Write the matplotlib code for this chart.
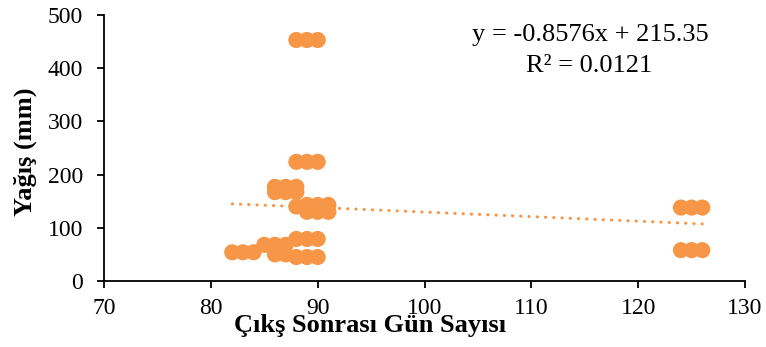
import numpy as np
import matplotlib.pyplot as plt

plt.rcParams['font.family'] = ['Liberation Serif', 'DejaVu Serif']

# gun sayisi / yagis (mm)
gun = [88, 89, 90,
       88, 89, 90,
       86, 87, 88,
       86, 87, 88,
       88, 89, 90, 91,
       89, 90, 91,
       88, 89, 90,
       85, 86, 87,
       82, 83, 84,
       86, 87,
       88, 89, 90,
       124, 125, 126,
       124, 125, 126]
yagis = [453, 453, 453,
         224, 224, 224,
         177, 177, 177,
         167, 167, 167,
         140, 143, 143, 143,
         130, 130, 130,
         79, 79, 79,
         68, 68, 68,
         54, 54, 54,
         50, 50,
         45, 45, 45,
         138, 138, 138,
         58, 58, 58]

# dogrusal egilim
egim = -0.8576
kesisim = 215.35
r2 = 0.0121

TURUNCU = '#F79646'

fig = plt.figure(figsize=(7.66, 3.47), dpi=100)
ax = fig.add_axes([0.1358, 0.1902, 0.8368, 0.7666])

ax.scatter(gun, yagis, s=135, color=TURUNCU, edgecolors='none', zorder=3)

xs = np.array([min(gun), max(gun)])
ax.plot(xs, egim * xs + kesisim, color=TURUNCU, lw=2.2,
        linestyle=(0, (0.1, 2.6)), dash_capstyle='round', zorder=2)

ax.set_xlim(70, 130)
ax.set_ylim(0, 500)
ax.set_xticks(range(70, 131, 10))
ax.set_yticks(range(0, 501, 100))

for side in ['top', 'right']:
    ax.spines[side].set_visible(False)
for side in ['left', 'bottom']:
    ax.spines[side].set_linewidth(1.3)
ax.tick_params(direction='out', length=5, width=1.3, labelsize=17)
ax.tick_params(axis='x', pad=7)
ax.tick_params(axis='y', pad=10)

ax.set_xlabel('Çıkş Sonrası Gün Sayısı', fontsize=19, fontweight='bold')
ax.xaxis.set_label_coords(0.415, -0.125)
ax.set_ylabel('Yağış (mm)', fontsize=19, fontweight='bold')
ax.yaxis.set_label_coords(-0.105, 0.485)

ax.text(0.758, 0.925, f'y = {egim}x + {kesisim}', transform=ax.transAxes,
        ha='center', va='center', fontsize=19)
ax.text(0.757, 0.81, f'R² = {r2}', transform=ax.transAxes,
        ha='center', va='center', fontsize=19)

fig.savefig('out.png', dpi=100)
